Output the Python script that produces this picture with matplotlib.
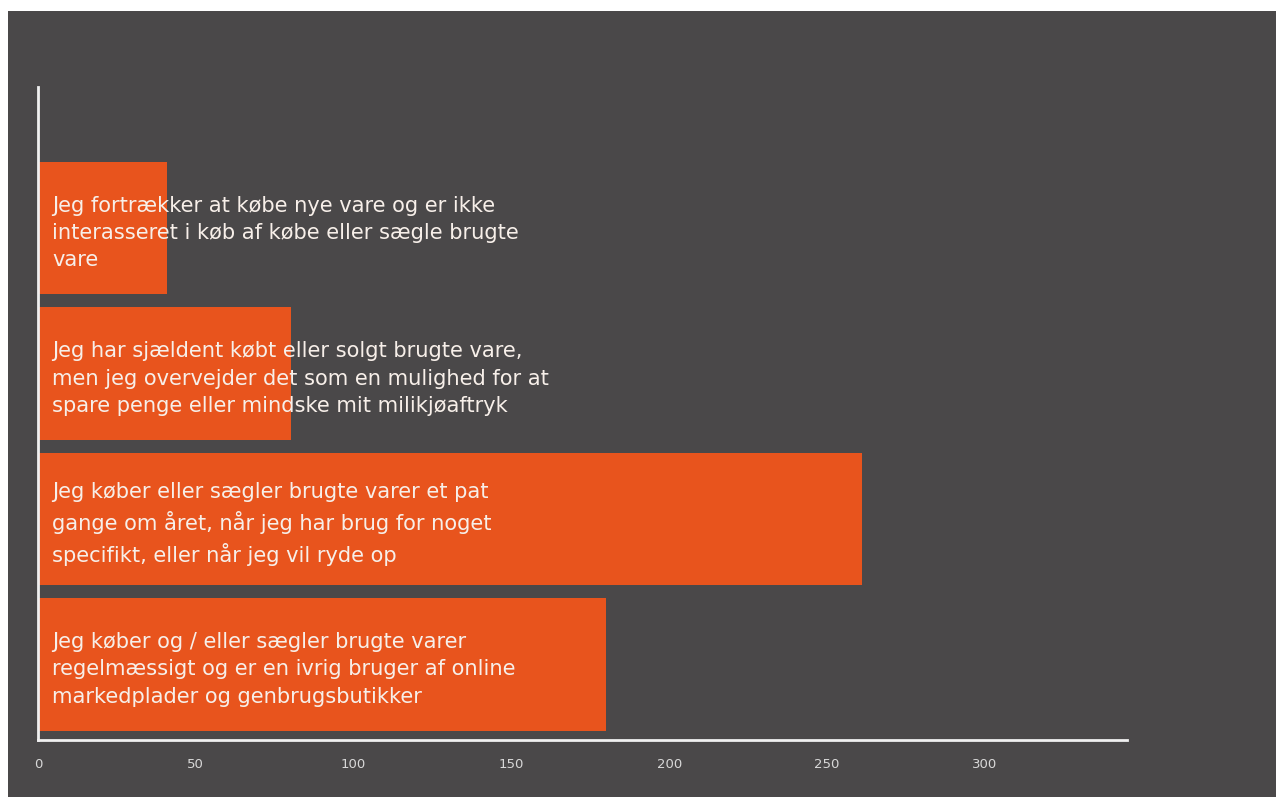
import matplotlib.pyplot as plt
from matplotlib.patches import Rectangle

# data (top to bottom in the chart)
labels = [
    'Jeg fortrækker at købe nye vare og er ikke\ninterasseret i køb af købe eller sægle brugte\nvare',
    'Jeg har sjældent købt eller solgt brugte vare,\nmen jeg overvejder det som en mulighed for at\nspare penge eller mindske mit milikjøaftryk',
    'Jeg køber eller sægler brugte varer et pat\ngange om året, når jeg har brug for noget\nspecifikt, eller når jeg vil ryde op',
    'Jeg køber og / eller sægler brugte varer\nregelmæssigt og er en ivrig bruger af online\nmarkedplader og genbrugsbutikker',
]
values = [41, 80, 261, 180]
xticks = [0, 50, 100, 150, 200, 250, 300]

bg = '#4a4849'
bar_color = '#e8541d'

fig = plt.figure(figsize=(12.76, 7.97), dpi=100)
fig.patch.set_facecolor('white')
fig.patches.append(Rectangle((8 / 1276, 0), 1 - 8 / 1276, 1 - 11 / 797,
                             transform=fig.transFigure, facecolor=bg,
                             edgecolor='none', zorder=-5))

ax = fig.add_axes([38 / 1276, 57 / 797, 1089 / 1276, 653 / 797])
ax.set_facecolor('none')
ax.set_zorder(2)

ypos = [3, 2, 1, 0]
ax.barh(ypos, values, height=0.91, color=bar_color, zorder=2)
for y, lab in zip(ypos, labels):
    ax.text(4.5, y - 0.035, lab, color='#f7efe9', fontsize=15.1, family='DejaVu Sans',
            va='center', ha='left', linespacing=1.45, zorder=3)

ax.set_xlim(0, 345)
ax.set_ylim(-0.52, 3.97)
ax.set_xticks(xticks)
ax.set_xticklabels([str(t) for t in xticks], fontsize=9.5, color='#d8d8d8',
                   family='DejaVu Sans')
ax.tick_params(axis='x', length=0, pad=13)
ax.set_yticks([])
for s in ['top', 'right']:
    ax.spines[s].set_visible(False)
for s in ['left', 'bottom']:
    ax.spines[s].set_color('#f0f0f0')
    ax.spines[s].set_linewidth(2)

fig.savefig('out.png', dpi=100, facecolor=fig.get_facecolor())
